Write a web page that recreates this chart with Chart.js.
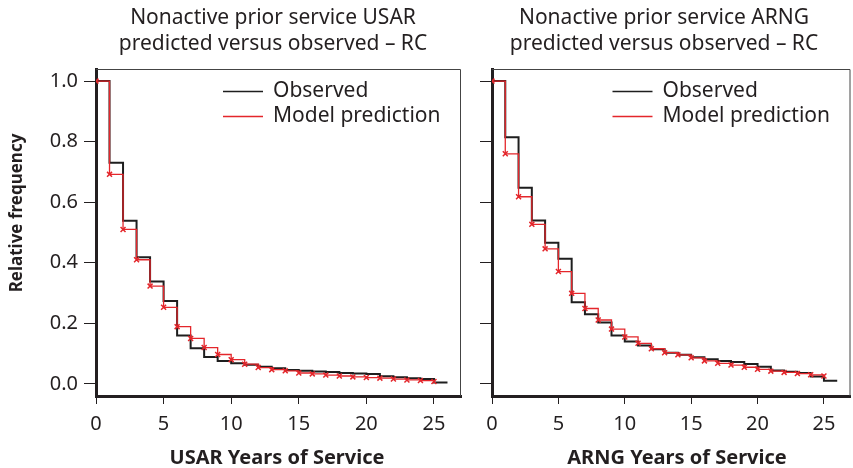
<!DOCTYPE html>
<html>
<head>
<meta charset="utf-8">
<script src="https://cdn.jsdelivr.net/npm/chart.js@4.4.0/dist/chart.umd.min.js"></script>
<style>
  html, body { margin: 0; padding: 0; background: #fff; overflow: hidden; }
  #wrap { position: relative; width: 853px; height: 468px; overflow: hidden; }
  .panel { position: absolute; top: 0; height: 468px; }
  #left { left: 0; width: 470px; }
  #right { left: 470px; width: 386px; }
</style>
</head>
<body>
<div id="wrap">
  <div class="panel" id="left"><canvas id="usarChart" width="470" height="468"></canvas></div>
  <div class="panel" id="right"><canvas id="arngChart" width="386" height="468"></canvas></div>
</div>
<script>
// Tick labels
const xTicks = [0, 5, 10, 15, 20, 25];
const yTicks = [0, 0.2, 0.4, 0.6, 0.8, 1.0];

// Relative frequency still serving, by year of service (0..25)
const usarObserved = [1.0, 0.73, 0.539, 0.418, 0.338, 0.274, 0.160, 0.118, 0.089, 0.076,
                      0.068, 0.063, 0.057, 0.052, 0.046, 0.043, 0.041, 0.039, 0.036, 0.034,
                      0.033, 0.025, 0.022, 0.019, 0.016, 0.005];
const usarModel    = [1.0, 0.692, 0.510, 0.410, 0.323, 0.253, 0.189, 0.150, 0.120, 0.097,
                      0.080, 0.065, 0.054, 0.047, 0.043, 0.036, 0.033, 0.029, 0.026, 0.023,
                      0.021, 0.019, 0.016, 0.013, 0.011, 0.008];

const arngObserved = [1.0, 0.815, 0.648, 0.540, 0.466, 0.413, 0.270, 0.230, 0.203, 0.160,
                      0.140, 0.127, 0.114, 0.103, 0.096, 0.088, 0.081, 0.076, 0.072, 0.066,
                      0.057, 0.044, 0.040, 0.036, 0.024, 0.010];
const arngModel    = [1.0, 0.760, 0.618, 0.527, 0.446, 0.371, 0.299, 0.249, 0.211, 0.181,
                      0.155, 0.134, 0.116, 0.103, 0.096, 0.086, 0.076, 0.068, 0.062, 0.055,
                      0.048, 0.042, 0.038, 0.034, 0.030, 0.026];

const INK = '#231f20';
const RED = '#e4262b';
const FONT = '"Noto Sans", "Open Sans", sans-serif';

// observed step line runs one more year past the last value
function toObservedPoints(levels) {
    const pts = levels.map((v, i) => ({ x: i, y: v }));
    pts.push({ x: levels.length, y: levels[levels.length - 1] });
    return pts;
}
function toModelPoints(levels) {
    return levels.map((v, i) => ({ x: i, y: v }));
}

// Titles, axis titles, frame and legend drawn on the canvas
const panelText = {
    id: 'panelText',
    afterDraw(chart, args, opts) {
        const ctx = chart.ctx;
        const a = chart.chartArea;
        ctx.save();

        // thin top / right frame
        ctx.strokeStyle = '#444';
        ctx.lineWidth = 1;
        ctx.beginPath();
        ctx.moveTo(a.left, a.top + 0.5);
        ctx.lineTo(a.right - 0.5, a.top + 0.5);
        ctx.lineTo(a.right - 0.5, a.bottom);
        ctx.stroke();

        ctx.fillStyle = INK;
        ctx.textAlign = 'center';
        ctx.textBaseline = 'middle';
        ctx.font = '21px ' + FONT;
        opts.title.forEach((line, i) => ctx.fillText(line, opts.titleX, 18 + i * 26));

        ctx.font = 'bold 20px ' + FONT;
        ctx.fillText(opts.xTitle, opts.xTitleX, 458);

        if (opts.yTitle) {
            ctx.save();
            ctx.font = 'bold 17px ' + FONT;
            ctx.translate(17, 213);
            ctx.rotate(-Math.PI / 2);
            ctx.fillText(opts.yTitle, 0, 0);
            ctx.restore();
        }

        // legend, top right inside the plot
        const lx = a.right - 238;
        ctx.textAlign = 'left';
        ctx.font = '21px ' + FONT;
        chart.data.datasets.forEach((ds, i) => {
            const y = 91 + i * 25;
            ctx.strokeStyle = ds.borderColor;
            ctx.lineWidth = 1.3;
            ctx.beginPath();
            ctx.moveTo(lx, y + 0.5);
            ctx.lineTo(lx + 40, y + 0.5);
            ctx.stroke();
            ctx.fillStyle = INK;
            ctx.fillText(ds.label, lx + 50, y);
        });
        ctx.restore();
    }
};

function makeChart(id, observed, model, opts) {
    const ctx = document.getElementById(id).getContext('2d');
    return new Chart(ctx, {
        type: 'line',
        data: {
            datasets: [{
                label: 'Observed',
                data: toObservedPoints(observed),
                borderColor: '#1e1e1e',
                borderWidth: 2,
                stepped: true,
                pointRadius: 0,
                order: 1
            }, {
                label: 'Model prediction',
                data: toModelPoints(model),
                borderColor: RED,
                borderWidth: 1.3,
                stepped: true,
                pointStyle: 'crossRot',
                pointRadius: 3.5,
                pointBorderColor: RED,
                pointBorderWidth: 1.5,
                order: 0
            }]
        },
        options: {
            responsive: false,
            animation: false,
            layout: { padding: { top: 69, right: opts.padRight, left: 0, bottom: 0 } },
            plugins: {
                legend: { display: false },
                tooltip: { enabled: false },
                panelText: opts.text
            },
            scales: {
                x: {
                    type: 'linear',
                    min: 0,
                    max: 27,
                    afterBuildTicks: s => { s.ticks = xTicks.map(v => ({ value: v })); },
                    afterFit: s => { s.height = 72; },
                    ticks: { font: { family: FONT, size: 20 }, color: INK, padding: 8 },
                    grid: { drawOnChartArea: false, drawTicks: true, tickLength: 8, color: INK },
                    border: { display: true, width: 3, color: INK }
                },
                y: {
                    type: 'linear',
                    min: -0.04,
                    max: 1.04,
                    afterBuildTicks: s => { s.ticks = yTicks.map(v => ({ value: v })); },
                    afterFit: s => { s.width = opts.yWidth; },
                    ticks: {
                        display: opts.yLabels,
                        font: { family: FONT, size: 20 },
                        color: INK,
                        padding: 6,
                        callback: v => v.toFixed(1)
                    },
                    grid: { drawOnChartArea: false, drawTicks: true, tickLength: 12, color: INK },
                    border: { display: true, width: 3, color: INK }
                }
            }
        },
        plugins: [panelText]
    });
}

makeChart('usarChart', usarObserved, usarModel, {
    padRight: 9,
    yWidth: 96,
    yLabels: true,
    text: {
        title: ['Nonactive prior service USAR', 'predicted versus observed \u2013 RC'],
        titleX: 273,
        xTitle: 'USAR Years of Service',
        xTitleX: 277,
        yTitle: 'Relative frequency'
    }
});

makeChart('arngChart', arngObserved, arngModel, {
    padRight: 0,
    yWidth: 22,
    yLabels: false,
    text: {
        title: ['Nonactive prior service ARNG', 'predicted versus observed \u2013 RC'],
        titleX: 194,
        xTitle: 'ARNG Years of Service',
        xTitleX: 207,
        yTitle: null
    }
});
</script>
</body>
</html>
